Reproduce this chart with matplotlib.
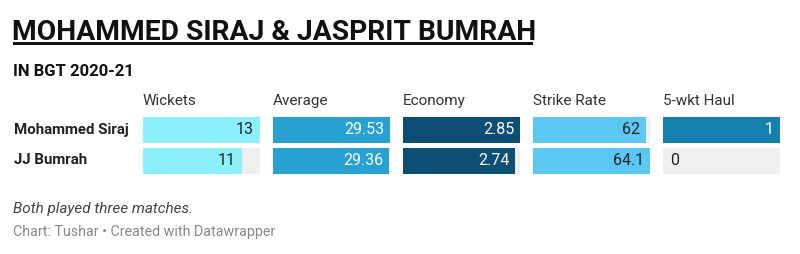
import matplotlib.pyplot as plt
from matplotlib.patches import Rectangle

# Data
players = ["Mohammed Siraj", "JJ Bumrah"]
columns = ["Wickets", "Average", "Economy", "Strike Rate", "5-wkt Haul"]
wickets = [13, 11]
average = [29.53, 29.36]
economy = [2.85, 2.74]
strike_rate = [62, 64.1]
five_wkt = [1, 0]
labels = {
    "Wickets": ["13", "11"],
    "Average": ["29.53", "29.36"],
    "Economy": ["2.85", "2.74"],
    "Strike Rate": ["62", "64.1"],
    "5-wkt Haul": ["1", "0"],
}
values = {
    "Wickets": wickets,
    "Average": average,
    "Economy": economy,
    "Strike Rate": strike_rate,
    "5-wkt Haul": five_wkt,
}

# Styles
colors = {
    "Wickets": "#8cf0fa",
    "Average": "#27a1d1",
    "Economy": "#0d4f74",
    "Strike Rate": "#5ac8f2",
    "5-wkt Haul": "#1580ad",
}
text_dark = {"Wickets": True, "Average": False, "Economy": False,
             "Strike Rate": True, "5-wkt Haul": False}
col_x0 = [143, 273, 403, 533, 663]
col_w = 117
row_y = [130, 160.5]
row_h = 26

plt.rcParams['font.family'] = ['Roboto', 'DejaVu Sans']

fig = plt.figure(figsize=(8, 2.54), dpi=100)
ax = fig.add_axes([0, 0, 1, 1])
ax.set_xlim(0, 800)
ax.set_ylim(254, 0)
ax.axis('off')

# title + underline
ax.text(12, 40, "MOHAMMED SIRAJ & JASPRIT BUMRAH", fontsize=20.3, fontweight='bold',
        color='#111111', va='baseline', ha='left')
ax.add_patch(Rectangle((13, 42), 520, 3, color='#111111', lw=0))
ax.text(13, 75.5, "IN BGT 2020-21", fontsize=12, fontweight='bold',
        color='#111111', va='baseline', ha='left')

for i, col in enumerate(columns):
    x0 = col_x0[i]
    ax.text(x0, 101, col, fontsize=11, color='#333333', va='center', ha='left')
    vmax = max(values[col])
    # grey background
    ax.barh(row_y, [col_w] * 2, left=x0, height=row_h, color='#efefef', lw=0)
    widths = [v / vmax * col_w for v in values[col]]
    ax.barh(row_y, widths, left=x0, height=row_h, color=colors[col], lw=0)
    for j, v in enumerate(values[col]):
        if v == 0:
            ax.text(x0 + 7, row_y[j], labels[col][j], fontsize=11.5, color='#222222',
                    va='center', ha='left')
        else:
            c = '#222222' if text_dark[col] else 'white'
            ax.text(x0 + widths[j] - 6, row_y[j], labels[col][j], fontsize=11.5,
                    color=c, va='center', ha='right')

for j, p in enumerate(players):
    ax.text(14, row_y[j], p, fontsize=10.8, fontweight='bold', color='#222222',
            va='center', ha='left')

ax.text(13, 209, "Both played three matches.", fontsize=11, style='italic',
        color='#444444', va='center', ha='left')
ax.text(13, 232, "Chart: Tushar \u2022 Created with Datawrapper", fontsize=10.3,
        color='#888888', va='center', ha='left')

fig.savefig("out.png", dpi=100, facecolor='white')
